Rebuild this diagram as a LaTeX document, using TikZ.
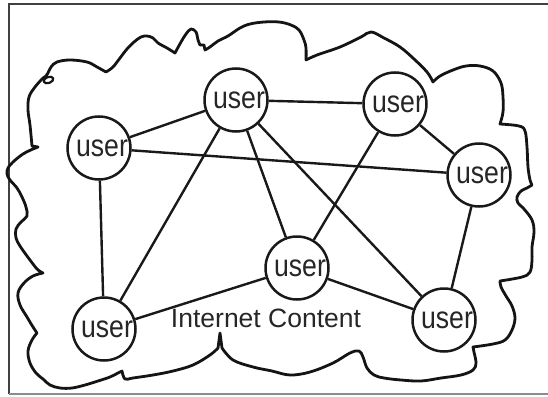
\documentclass[tikz,border=0pt]{standalone}
\usepackage{fontspec}
\setmainfont{Liberation Sans}
\newcommand{\usertext}{\hspace*{6pt}\scalebox{0.86}[1]{user}}
\begin{document}
\begin{tikzpicture}[x=1pt,y=-1pt,
  user/.style={circle,draw=black!90,line width=2.5pt,minimum size=63pt,inner sep=0pt,
    font=\fontsize{31}{31}\selectfont,text=black!85},
  link/.style={draw=black!90,line width=2.4pt},
  cloudline/.style={draw=black!92,line width=2.8pt,line join=round,line cap=round},
  label/.style={font=\fontsize{26.5}{26.5}\selectfont,text=black!85,inner sep=0pt}]
\useasboundingbox (0,0) rectangle (548,396);
% frame
\draw[draw=black!75,line width=2pt] (549,4) -- (9,4) -- (9,394);
\draw[draw=black!45,line width=1.3pt] (9,394) -- (549,394);
% cloud
\draw[cloudline]
  plot[smooth,tension=0.6] coordinates {(43,78) (35,87) (29,97) (28,110) (30,125) (32,146)}
  -- (38,147)
  -- plot[smooth,tension=0.6] coordinates {(33,149) (23,154) (13,162) (8,168) (7,174) (10,180) (17,188) (22,197) (26,207) (27,216) (21,222) (16,229) (16,238) (20,246) (27,256) (33,264) (38,270) (43,273)}
  -- plot[smooth,tension=0.6] coordinates {(43,273) (33,276) (24,283) (18,293) (20,305) (27,317) (33,327) (37,333)}
  -- plot[smooth,tension=0.6] coordinates {(37,333) (32,340) (28,351) (30,363) (36,373) (43,379) (50,385) (60,388) (72,388) (85,385) (98,381) (110,377) (118,373) (122,371)}
  -- plot[smooth,tension=0.6] coordinates {(122,371) (125,379) (133,378) (153,375) (173,371) (193,365) (210,355) (218,348)}
  -- (220,333)
  -- plot[smooth,tension=0.6] coordinates {(222,348) (233,360) (253,367) (272,371) (290,375) (310,372) (333,363) (350,353) (359,351) (363,357) (367,368) (374,375) (384,378) (401,380) (421,381) (441,378) (461,375) (473,370) (476,363) (474,352) (473,347)}
  -- plot[smooth,tension=0.6] coordinates {(473,347) (493,344) (505,340) (512,330) (515,318) (512,306) (506,296) (501,287) (500,281)}
  -- plot[smooth,tension=0.6] coordinates {(500,281) (522,277) (530,272) (532,260) (532,247) (534,232) (532,220) (524,209) (518,203) (517,197) (521,191) (527,188) (532,185)}
  -- plot[smooth,tension=0.6] coordinates {(532,185) (530,180) (528,167) (527,147) (525,131) (519,126) (500,124)}
  -- plot[smooth,tension=0.6] coordinates {(500,124) (503,112) (503,97) (501,83) (493,71) (480,66) (466,66) (453,70) (440,76) (433,82)}
  -- plot[smooth,tension=0.6] coordinates {(433,82) (427,72) (414,59) (400,47) (384,38) (371,32) (361,37) (340,47) (317,55) (306,60)}
  -- plot[smooth,tension=0.6] coordinates {(306,60) (306,48) (304,40) (299,30) (291,25) (279,22) (264,22) (250,24) (240,28) (228,36) (218,41) (210,47) (205,50)}
  -- (204,45)
  -- plot[smooth,tension=0.6] coordinates {(200,45) (198,40) (196,32) (191,29) (186,34) (181,42) (175,53)}
  -- plot[smooth,tension=0.6] coordinates {(175,53) (167,48) (158,43) (153,38) (147,36) (141,37) (134,42) (127,49) (120,58) (113,67) (106,72)}
  -- plot[smooth,tension=0.6] coordinates {(106,72) (97,67) (87,62) (70,60) (57,62) (51,67) (48,73) (46,76) (43,78)}
  -- cycle;
\draw[cloudline,line width=2.2pt] (48.5,80) ellipse [x radius=5, y radius=3, rotate=20];
% users
\node[user] (u1) at (99,148) {\usertext};
\node[user] (u2) at (236,100) {\usertext};
\node[user] (u3) at (395,104) {\usertext};
\node[user] (u4) at (479,175) {\usertext};
\node[user] (u5) at (104,329) {\usertext};
\node[user] (u6) at (297,268) {\usertext};
\node[user] (u7) at (444,320) {\usertext};
\node[label] (ic) at (266,318) {Internet Content};
% links
\draw[link] (u1) -- (u2);
\draw[link] (u1) -- (u4);
\draw[link] (u1) -- (u5);
\draw[link] (u2) -- (u3);
\draw[link] (u2) -- (u5);
\draw[link] (u2) -- (u6);
\draw[link] (u2) -- (u7);
\draw[link] (u3) -- (u4);
\draw[link] (u3) -- (u6);
\draw[link] (u4) -- (u7);
\draw[link] (u5) -- (u6);
\draw[link] (u6) -- (u7);
\end{tikzpicture}
\end{document}
